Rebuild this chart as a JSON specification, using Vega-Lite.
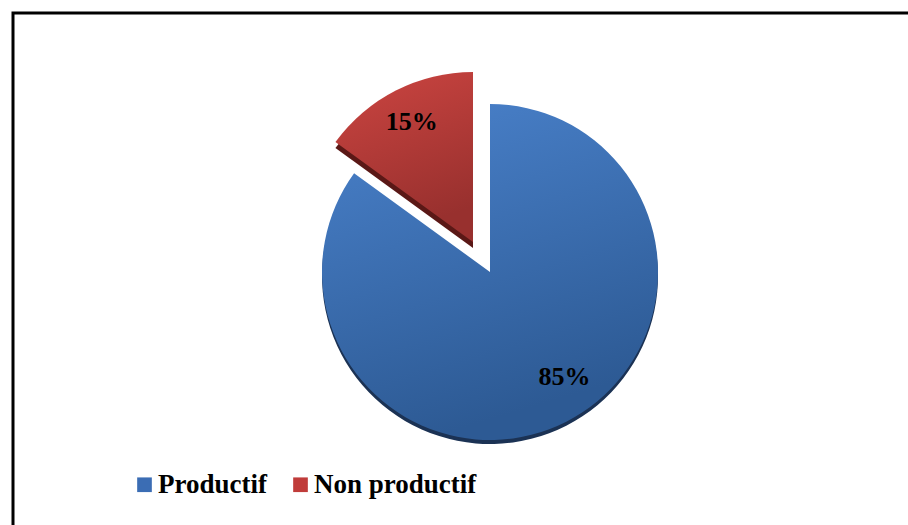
{
  "$schema": "https://vega.github.io/schema/vega-lite/v6.json",
  "autosize": "none",
  "width": 954,
  "height": 518,
  "padding": {"left": 13, "top": 13, "right": -59, "bottom": -6},
  "background": "white",
  "view": {"stroke": "black", "strokeWidth": 3},
  "config": {
    "view": {"stroke": "black", "strokeWidth": 3},
    "legend": {
      "orient": "none",
      "legendX": 118,
      "legendY": 458,
      "direction": "horizontal",
      "padding": 0,
      "symbolType": "square",
      "symbolSize": 215,
      "symbolStrokeWidth": 0,
      "symbolOpacity": 1,
      "labelFont": "Liberation Serif",
      "labelFontSize": 27,
      "labelFontWeight": "bold",
      "labelColor": "black",
      "labelOffset": 0,
      "columnPadding": 20,
      "labelLimit": 0
    }
  },
  "data": {
    "values": [
      {"category": "Productif", "value": 85, "label": "85%"},
      {"category": "Non productif", "value": 15, "label": "15%"}
    ]
  },
  "encoding": {
    "theta": {"field": "value", "type": "quantitative", "stack": true},
    "order": {"field": "value", "sort": "descending"}
  },
  "layer": [
    {
      "mark": {"type": "arc", "radius": 168, "opacity": 0},
      "encoding": {
        "color": {
          "field": "category",
          "type": "nominal",
          "scale": {"domain": ["Productif", "Non productif"], "range": ["#3b6db4", "#c03c3a"]},
          "legend": {"title": null}
        }
      }
    },
    {
      "mark": {"type": "arc", "radius": 168, "fill": "#1b3254", "y": {"expr": "height/2 + 4"}},
      "encoding": {
        "opacity": {"condition": {"test": "datum.category === 'Productif'", "value": 1}, "value": 0}
      }
    },
    {
      "mark": {"type": "arc", "radius": 170, "fill": "#5a1816", "x": {"expr": "width/2 - 17"}, "y": {"expr": "height/2 - 24"}},
      "encoding": {
        "opacity": {"condition": {"test": "datum.category === 'Non productif'", "value": 1}, "value": 0}
      }
    },
    {
      "mark": {
        "type": "arc",
        "radius": 168,
        "fill": {
          "gradient": "linear", "x1": 0, "y1": 0, "x2": 0.3, "y2": 1,
          "stops": [{"offset": 0, "color": "#4a82cc"}, {"offset": 1, "color": "#2d5a94"}]
        }
      },
      "encoding": {
        "opacity": {"condition": {"test": "datum.category === 'Productif'", "value": 1}, "value": 0}
      }
    },
    {
      "mark": {
        "type": "arc",
        "radius": 170,
        "x": {"expr": "width/2 - 17"},
        "y": {"expr": "height/2 - 30"},
        "fill": {
          "gradient": "linear", "x1": 0, "y1": 0, "x2": 0.3, "y2": 1,
          "stops": [{"offset": 0, "color": "#cc4541"}, {"offset": 1, "color": "#98302e"}]
        }
      },
      "encoding": {
        "opacity": {"condition": {"test": "datum.category === 'Non productif'", "value": 1}, "value": 0}
      }
    },
    {
      "mark": {"type": "text", "radius": 118, "dx": 21, "font": "Liberation Serif", "fontSize": 26, "fontWeight": "bold", "color": "black"},
      "encoding": {
        "text": {"field": "label"},
        "opacity": {"condition": {"test": "datum.category === 'Productif'", "value": 1}, "value": 0}
      }
    },
    {
      "mark": {"type": "text", "radius": 135, "x": {"expr": "width/2 - 17"}, "y": {"expr": "height/2 - 30"}, "font": "Liberation Serif", "fontSize": 26, "fontWeight": "bold", "color": "black"},
      "encoding": {
        "text": {"field": "label"},
        "opacity": {"condition": {"test": "datum.category === 'Non productif'", "value": 1}, "value": 0}
      }
    }
  ]
}
